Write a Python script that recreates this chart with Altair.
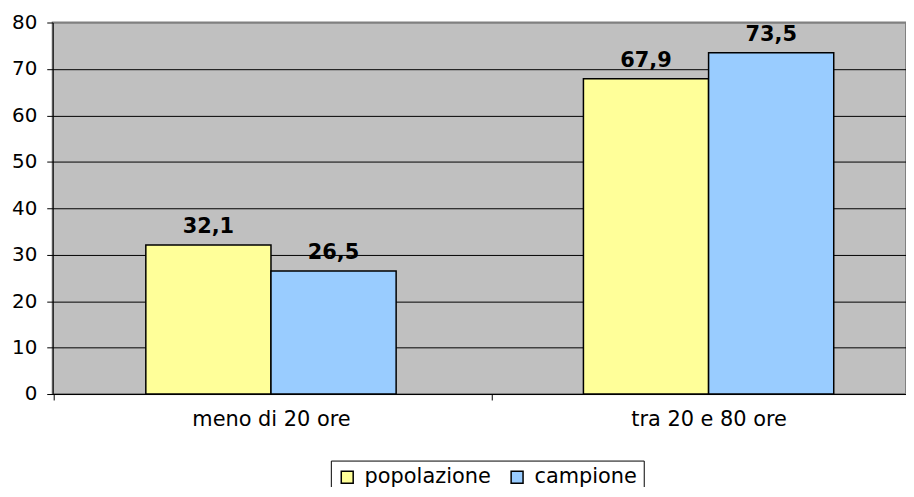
import altair as alt
import pandas as pd

categories = ["meno di 20 ore", "tra 20 e 80 ore"]
series = ["popolazione", "campione"]
popolazione = [32.1, 67.9]
campione = [26.5, 73.5]
y_ticks = [0, 10, 20, 30, 40, 50, 60, 70, 80]
colors = ["#FFFF99", "#99CCFF"]

rows = []
for i, c in enumerate(categories):
    rows.append({"cat": c, "serie": series[0], "val": popolazione[i]})
    rows.append({"cat": c, "serie": series[1], "val": campione[i]})
df = pd.DataFrame(rows)

FONT = "DejaVu Sans"

x = alt.X(
    "cat:N",
    sort=categories,
    scale=alt.Scale(range=[0, 880], paddingInner=0.428, paddingOuter=0.2128),
    axis=alt.Axis(
        title=None, labelAngle=0, labelFontSize=21, labelFont=FONT,
        labelColor="black", tickSize=6, tickColor="black",
        tickOffset=-218.5, labelOffset=218.5,
        domainColor="black", labelPadding=9, grid=False,
    ),
)
y = alt.Y(
    "val:Q",
    scale=alt.Scale(domain=[0, 80], nice=False),
    axis=alt.Axis(
        values=y_ticks, title=None, grid=True,
        gridColor=alt.condition("datum.value == 80", alt.value("#808080"), alt.value("black")),
        gridWidth=1, gridOpacity=1, domainColor="black", tickColor="black",
        tickSize=6, labelFontSize=20, labelPadding=10, labelFont=FONT,
        labelColor="black",
    ),
)
xo = alt.XOffset("serie:N", sort=series, scale=alt.Scale(paddingInner=0, paddingOuter=0))

base = alt.Chart(df).transform_calculate(
    label="replace(format(datum.val, '.1f'), '.', ',')"
)

bars = base.mark_bar(stroke="black", strokeWidth=1.5).encode(
    x=x, y=y, xOffset=xo,
    color=alt.Color(
        "serie:N", sort=series,
        scale=alt.Scale(domain=series, range=colors),
        legend=alt.Legend(
            title=None, orient="none", legendX=280, legendY=441,
            direction="horizontal", symbolType="square", symbolSize=144,
            symbolStrokeColor="black", symbolStrokeWidth=1.5,
            labelFontSize=21, labelFont=FONT, labelColor="black",
            strokeColor="black", padding=6, fillColor="white",
            columnPadding=16, labelOffset=7,
        ),
    ),
)

text = base.mark_text(
    dy=-12, fontSize=21, fontWeight="bold", font=FONT, baseline="alphabetic", color="black"
).encode(x=x, y=y, xOffset=xo, text="label:N")

chart = alt.layer(bars, text).properties(
    width=859, height=374,
    padding={"left": 45, "top": 13, "right": 0, "bottom": 92},
    autosize=alt.AutoSizeParams(type="none"),
).configure_view(fill="#C0C0C0", stroke="#808080", strokeWidth=2)

chart.save("out.html", embed_options={"renderer": "svg", "actions": False})
